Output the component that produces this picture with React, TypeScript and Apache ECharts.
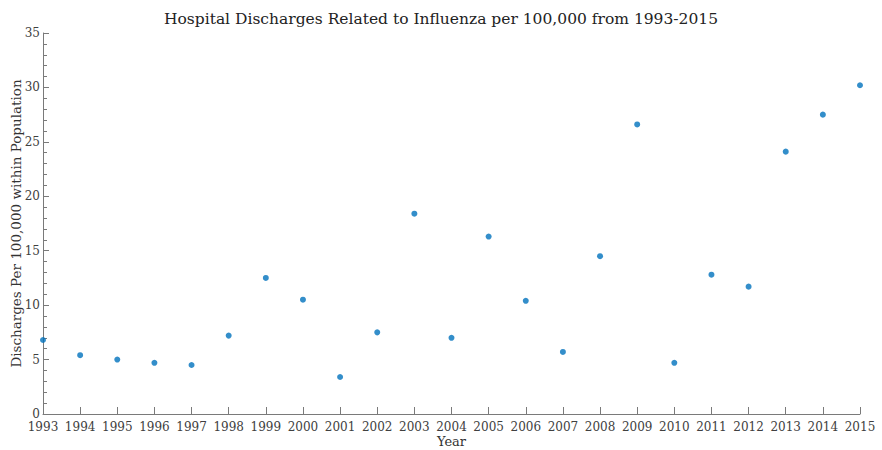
import React, { useEffect, useRef } from "react";
import * as echarts from "echarts";

const years = [1993, 1994, 1995, 1996, 1997, 1998, 1999, 2000, 2001, 2002, 2003, 2004, 2005, 2006, 2007, 2008, 2009, 2010, 2011, 2012, 2013, 2014, 2015];
const discharges = [6.8, 5.4, 5.0, 4.7, 4.5, 7.2, 12.5, 10.5, 3.4, 7.5, 18.4, 7.0, 16.3, 10.4, 5.7, 14.5, 26.6, 4.7, 12.8, 11.7, 24.1, 27.5, 30.2];
const yTicks = { min: 0, max: 35, interval: 5 };

const titleText = "Hospital Discharges Related to Influenza per 100,000 from 1993-2015";
const xName = "Year";
const yName = "Discharges Per 100,000 within Population";

const FONT = "DejaVu Serif";

export default function App() {
  const ref = useRef<HTMLDivElement>(null);
  useEffect(() => {
    document.body.style.margin = "0";
    document.body.style.overflow = "hidden";
    if (!ref.current) return;
    const chart = echarts.init(ref.current, null, { renderer: "svg" });
    chart.setOption({
      animation: false,
      backgroundColor: "#ffffff",
      textStyle: { fontFamily: FONT },
      title: {
        text: titleText,
        left: "center",
        top: 6,
        textStyle: { fontFamily: FONT, fontSize: 15.5, fontWeight: "normal", color: "#222222" },
      },
      grid: { left: 43, right: 22, top: 33, bottom: 36, containLabel: false, outerBoundsMode: "none" },
      xAxis: {
        type: "value",
        min: years[0],
        max: years[years.length - 1],
        interval: 1,
        name: xName,
        nameLocation: "middle",
        nameGap: 21,
        nameMoveOverlap: false,
        nameTextStyle: { fontFamily: FONT, fontSize: 13, color: "#333333" },
        axisLine: { show: true, lineStyle: { color: "#7a7a7a", width: 1 } },
        axisTick: { show: true, inside: true, length: 7, lineStyle: { color: "#7a7a7a" } },
        axisLabel: { fontFamily: FONT, fontSize: 12, color: "#404040", margin: 7, formatter: (v: number) => String(v) },
        splitLine: { show: false },
      },
      yAxis: {
        type: "value",
        min: yTicks.min,
        max: yTicks.max,
        interval: yTicks.interval,
        name: yName,
        nameLocation: "middle",
        nameGap: 20,
        nameMoveOverlap: false,
        nameTextStyle: { fontFamily: FONT, fontSize: 13.5, color: "#333333" },
        axisLine: { show: true, lineStyle: { color: "#7a7a7a", width: 1 } },
        axisTick: { show: true, inside: true, length: 6, lineStyle: { color: "#7a7a7a" } },
        minorTick: { show: true, splitNumber: 5, length: 4, lineStyle: { color: "#7a7a7a" } },
        axisLabel: { fontFamily: FONT, fontSize: 12, color: "#404040", margin: 3 },
        splitLine: { show: false },
      },
      series: [
        {
          type: "scatter",
          data: years.map((y, i) => [y, discharges[i]]),
          symbol: "circle",
          symbolSize: 6,
          itemStyle: { color: "#0072BD" },
          clip: false,
        },
      ],
    });
    return () => chart.dispose();
  }, []);
  return <div ref={ref} style={{ width: 882, height: 450 }} />;
}
